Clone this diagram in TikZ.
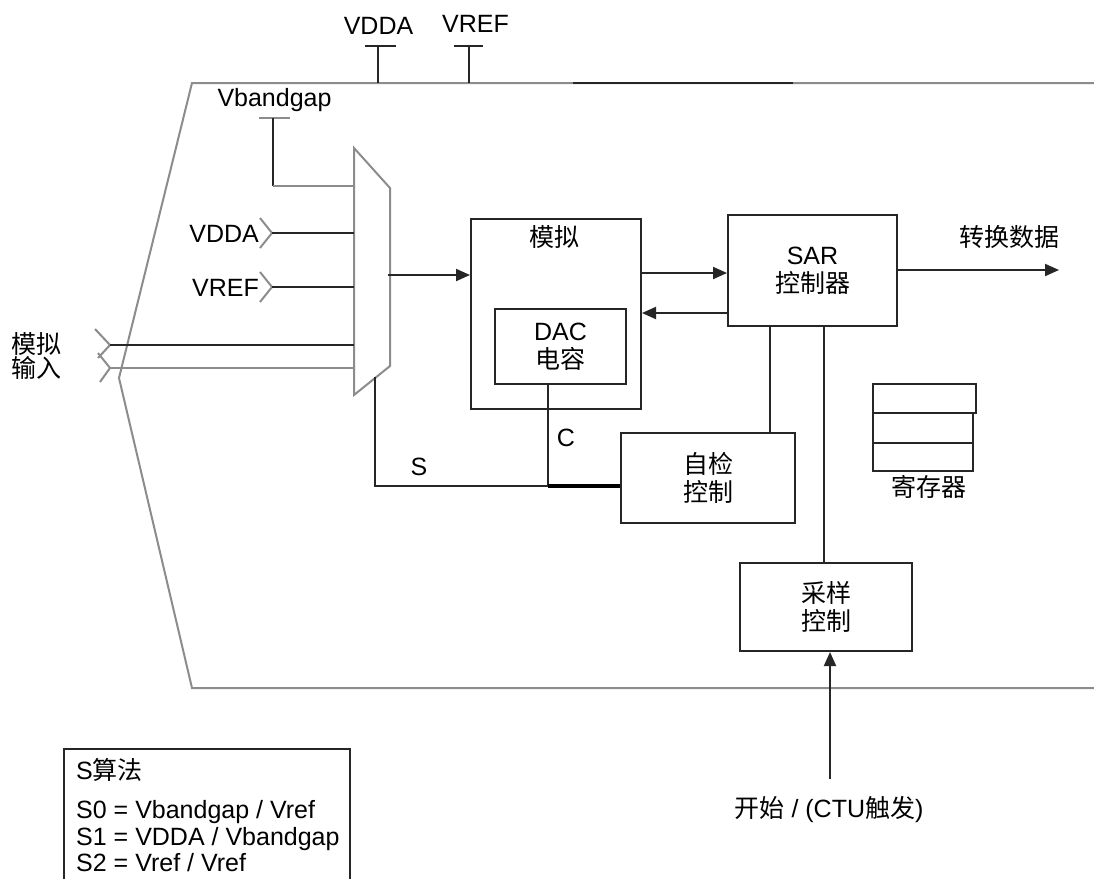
\documentclass[tikz,border=0pt]{standalone}
\usepackage{fontspec}
\setmainfont{Liberation Sans}
\newfontfamily\cjk{Noto Sans CJK SC}
\usetikzlibrary{arrows.meta,calc}
\begin{document}
\begin{tikzpicture}[x=1pt,y=-1pt,
  ln/.style={line width=2pt,draw=black!85},
  gl/.style={line width=2pt,draw=black!45},
  thk/.style={line width=3.5pt,draw=black},
  box/.style={ln,rectangle,inner sep=0pt,align=center,font=\fontsize{25}{28}\selectfont},
  lbl/.style={inner sep=0pt,align=center,font=\fontsize{25}{28}\selectfont},
  arr/.style={ln,-{Triangle[length=14pt,width=12pt]}},
]
\useasboundingbox (0,0) rectangle (1094,879);
\fill[white] (0,0) rectangle (1094,879);

% outer boundary
\draw[gl] (1094,83) -- (192,83) -- (119,378) -- (192,688) -- (1094,688);
\draw[ln] (573,83) -- (793,83);

% top pins
\node[lbl] (tvdda) at (378.5,26) {VDDA};
\node[lbl] (tvref) at (475.5,24) {VREF};
\coordinate (pv1) at (378,46);
\coordinate (pv2) at (469,46);
\draw[ln] (365,46) -- (396,46);
\draw[ln] (pv1) -- (378,83);
\draw[ln] (454,46) -- (483,46);
\draw[ln] (pv2) -- (469,83);

% mux
\coordinate (m1) at (354,148);
\coordinate (m2) at (390,188);
\coordinate (m3) at (390,366);
\coordinate (m4) at (354,395);
\draw[gl] (m1) -- (m2) -- (m3) -- (m4) -- cycle;

% Vbandgap
\node[lbl] (vbg) at (274.5,100) {Vbandgap};
\draw[gl] (259,118) -- (290,118);
\coordinate (vbgc) at (273,186);
\draw[ln] (273,118) -- (vbgc);
\draw[gl] (vbgc) -- (354,186);

% VDDA / VREF inputs
\node[lbl,anchor=east] (lvdda) at (259,234) {VDDA};
\node[lbl,anchor=east] (lvref) at (259,288) {VREF};
\draw[gl] (260,218) -- (272,233) -- (260,248);
\draw[ln] (272,233) -- (354,233);
\draw[gl] (260,272) -- (272,287) -- (260,302);
\draw[ln] (272,287) -- (354,287);

% analog inputs
\node[lbl,font=\fontsize{25}{23}\selectfont\cjk] (ain) at (37,356) {模拟\\输入};
\draw[gl] (95,329) -- (110,345) -- (98,358);
\draw[gl] (98,353) -- (110,368) -- (100,382);
\draw[ln] (110,345) -- (354,345);
\draw[gl] (110,368) -- (354,368);

% blocks
\node[box,minimum width=170pt,minimum height=190pt] (ana) at (556,314) {};
\node[lbl,font=\fontsize{25}{28}\selectfont\cjk] (analbl) at (554,237) {模拟};
\node[box,minimum width=131pt,minimum height=75pt] (dac) at (560.5,346.5) {DAC\\{\cjk 电容}};
\node[box,minimum width=169pt,minimum height=111pt] (sar) at (812.5,270.5) {SAR\\{\cjk 控制器}};
\node[box,minimum width=174pt,minimum height=90pt] (self) at (708,478) {\cjk 自检\\\cjk 控制};
\node[box,minimum width=172pt,minimum height=88pt] (samp) at (826,607) {\cjk 采样\\\cjk 控制};

% registers
\node[box,minimum width=103pt,minimum height=29pt] (r1) at (924.5,398.5) {};
\node[box,minimum width=100pt,minimum height=30pt] (r2) at (923,428) {};
\node[box,minimum width=100pt,minimum height=28pt] (r3) at (923,457) {};
\node[lbl,font=\fontsize{25}{28}\selectfont\cjk] (reglbl) at (929,487) {寄存器};

% connections
\coordinate (mo) at (388,275);
\draw[arr] (mo) -- (ana.west |- mo);
\coordinate (y1) at (0,273);
\draw[arr] (ana.east |- y1) -- (sar.west |- y1);
\coordinate (y2) at (0,313);
\draw[arr] (sar.west |- y2) -- (ana.east |- y2);
\coordinate (out) at (1059,270);
\draw[arr] (sar.east |- out) -- (out);
\node[lbl,font=\fontsize{25}{28}\selectfont\cjk] (outlbl) at (1009,237) {转换数据};

\coordinate (xa) at (770,0);
\coordinate (xb) at (824,0);
\draw[ln] (sar.south -| xa) -- (self.north -| xa);
\draw[ln] (sar.south -| xb) -- (samp.north -| xb);

% S / C lines
\coordinate (ms) at (375,377);
\coordinate (sc) at (375,486);
\coordinate (jc) at (548,486);
\draw[ln] (ms) -- (sc) -- (jc);
\draw[ln] (dac.south -| jc) -- (jc);
\draw[thk] (jc) -- (self.west |- jc);
\node[lbl] (slbl) at (419,467) {S};
\node[lbl] (clbl) at (566,438) {C};

% start trigger
\node[lbl] (start) at (829,810) {{\cjk 开始} / (CTU{\cjk 触发})};
\coordinate (st) at (830,779);
\draw[arr] (st) -- (samp.south -| st);

% legend
\draw[ln] (64,879) -- (64,749) -- (350,749) -- (350,879);
\node[lbl,anchor=west] (lg0) at (76,770) {S{\cjk 算法}};
\node[lbl,anchor=west] (lg1) at (76,812) {S0 = Vbandgap / Vref};
\node[lbl,anchor=west] (lg2) at (76,839) {S1 = VDDA / Vbandgap};
\node[lbl,anchor=west] (lg3) at (76,863) {S2 = Vref / Vref};
\end{tikzpicture}
\end{document}
